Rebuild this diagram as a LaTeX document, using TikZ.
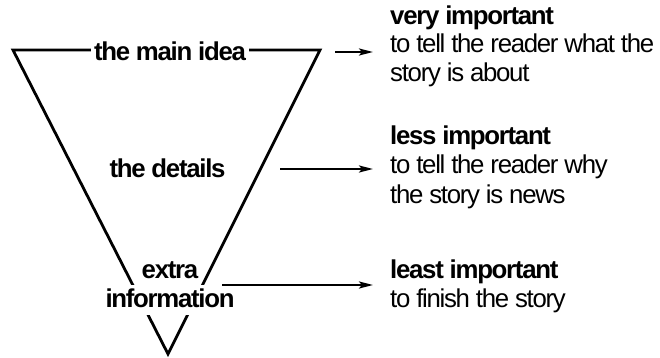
\documentclass[tikz,border=0pt]{standalone}
\usepackage{fontspec}
\setmainfont{Liberation Sans}[LetterSpace=-5]
\usetikzlibrary{arrows.meta}
\newcommand{\labelsize}{\fontsize{25.8}{30}\selectfont}
\begin{document}
\begin{tikzpicture}[x=1pt,y=-1pt,
  level/.style={font=\labelsize\bfseries, inner sep=0pt, anchor=base},
  note/.style={font=\labelsize, inner sep=0pt, anchor=base west},
  heading/.style={note, font=\labelsize\bfseries},
  funnel/.style={line width=2.8pt, line join=miter},
  pointer/.style={line width=2.2pt, -{Stealth[length=14pt,width=7pt,inset=3pt]}, shorten >=17pt}
]
\useasboundingbox (0,0) rectangle (660,358);

% inverted pyramid
\coordinate (TL) at (13,50);
\coordinate (TR) at (320,50);
\coordinate (B) at (168,354);
\draw[funnel] (TL) -- (TR) -- (B) -- cycle;

% levels of the pyramid
\node[level, fill=white, inner xsep=3pt, inner ysep=2pt] (main) at (170,61) {the main idea};
\node[level] (details) at (167.5,177) {the details};
\node[level] (extra) at (170,278) {extra};
\node[level, fill=white, inner xsep=2pt, inner ysep=3pt, text depth=5pt] (info) at (170,307) {information};

% explanations on the right
\node[heading] (h1) at (390,25) {very important};
\node[note] (t1a) at (390,53) {to tell the reader what the};
\node[note] (t1b) at (390,82) {story is about};

\node[heading] (h2) at (390,145) {less important};
\node[note] (t2a) at (390,173) {to tell the reader why};
\node[note] (t2b) at (390,203) {the story is news};

\node[heading] (h3) at (390,278) {least important};
\node[note] (t3a) at (390,307) {to finish the story};

% pointers from the pyramid to the explanations
\coordinate (s1) at (335,52);
\coordinate (s2) at (280,169);
\coordinate (s3) at (222,285);
\draw[pointer] (s1) -- (s1 -| t1a.west);
\draw[pointer] (s2) -- (s2 -| t2a.west);
\draw[pointer] (s3) -- (s3 -| h3.west);
\end{tikzpicture}
\end{document}
